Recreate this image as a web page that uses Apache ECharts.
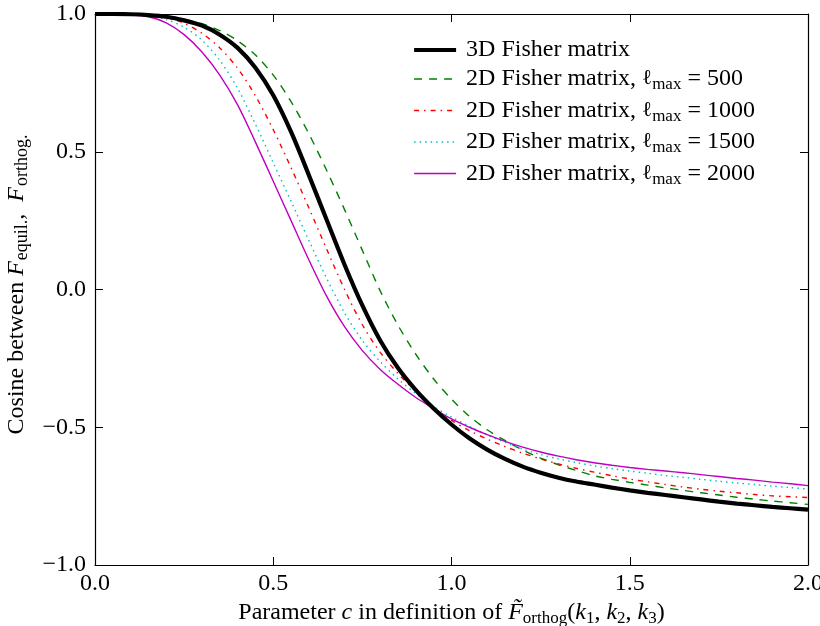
<!DOCTYPE html>
<html>
<head>
<meta charset="utf-8">
<script src="https://cdn.jsdelivr.net/npm/echarts@6/dist/echarts.min.js"></script>
<style>
  html, body { margin: 0; padding: 0; background: #fff; }
  #chart { width: 820px; height: 626px; }
</style>
</head>
<body>
<div id="chart"></div>
<script>
// Parameter c sampled along the horizontal axis
const cValues = [0.00, 0.05, 0.10, 0.15, 0.20, 0.25, 0.30, 0.35, 0.40, 0.45,
                 0.50, 0.55, 0.60, 0.65, 0.70, 0.75, 0.80, 0.85, 0.90, 0.95,
                 1.00, 1.05, 1.10, 1.15, 1.20, 1.25, 1.30, 1.35, 1.40, 1.45,
                 1.50, 1.55, 1.60, 1.65, 1.70, 1.75, 1.80, 1.85, 1.90, 1.95, 2.00];

// Cosine between F_equil. and F_orthog. for each Fisher matrix
const fisher3D = [1.000, 1.000, 0.999, 0.996, 0.990, 0.977, 0.958, 0.925, 0.877, 0.805,
                  0.705, 0.572, 0.415, 0.252, 0.090, -0.058, -0.185, -0.285, -0.365, -0.432,
                  -0.490, -0.540, -0.581, -0.615, -0.643, -0.665, -0.683, -0.697, -0.708, -0.719,
                  -0.729, -0.738, -0.746, -0.754, -0.762, -0.770, -0.777, -0.783, -0.789, -0.794, -0.799];

const fisher2D_500 = [1.000, 1.000, 1.000, 0.997, 0.992, 0.981, 0.965, 0.940, 0.903, 0.851,
                      0.778, 0.682, 0.565, 0.432, 0.290, 0.142, -0.005, -0.130, -0.235, -0.325,
                      -0.398, -0.460, -0.509, -0.548, -0.583, -0.612, -0.636, -0.657, -0.676, -0.689,
                      -0.700, -0.710, -0.720, -0.729, -0.738, -0.746, -0.754, -0.761, -0.768, -0.774, -0.780];

const fisher2D_1000 = [1.000, 1.000, 0.999, 0.995, 0.987, 0.966, 0.930, 0.877, 0.803, 0.703,
                       0.580, 0.442, 0.296, 0.146, 0.000, -0.128, -0.228, -0.305, -0.370, -0.430,
                       -0.475, -0.512, -0.543, -0.570, -0.594, -0.615, -0.633, -0.649, -0.663, -0.676,
                       -0.688, -0.698, -0.708, -0.717, -0.725, -0.732, -0.738, -0.744, -0.749, -0.752, -0.755];

const fisher2D_1500 = [1.000, 1.000, 0.998, 0.994, 0.980, 0.952, 0.905, 0.832, 0.730, 0.600,
                       0.460, 0.320, 0.178, 0.040, -0.085, -0.185, -0.262, -0.325, -0.378, -0.425,
                       -0.463, -0.497, -0.528, -0.555, -0.579, -0.599, -0.615, -0.628, -0.640, -0.650,
                       -0.659, -0.667, -0.675, -0.682, -0.689, -0.696, -0.702, -0.708, -0.714, -0.719, -0.724];

const fisher2D_2000 = [1.000, 1.000, 0.997, 0.990, 0.968, 0.925, 0.862, 0.778, 0.670, 0.535,
                       0.393, 0.250, 0.107, -0.025, -0.135, -0.222, -0.290, -0.344, -0.392, -0.432,
                       -0.470, -0.500, -0.527, -0.551, -0.572, -0.590, -0.605, -0.618, -0.629, -0.638,
                       -0.646, -0.653, -0.659, -0.665, -0.672, -0.679, -0.686, -0.692, -0.699, -0.705, -0.712];

const seriesNames = ['3D Fisher matrix',
                     '2D Fisher matrix, lmax = 500',
                     '2D Fisher matrix, lmax = 1000',
                     '2D Fisher matrix, lmax = 1500',
                     '2D Fisher matrix, lmax = 2000'];
const lmaxValues = [null, '500', '1000', '1500', '2000'];

const FONT = 'Liberation Serif';
const FS = 24;
const rich = {
  n: { fontFamily: FONT, fontSize: FS, color: '#000' },
  i: { fontFamily: FONT, fontSize: FS, fontStyle: 'italic', color: '#000' },
  l: { fontFamily: 'DejaVu Serif', fontSize: FS - 3, color: '#000' },
  s: { fontFamily: FONT, fontSize: 17, color: '#000', padding: [12, 0, 0, 0] },
  ys: { fontFamily: FONT, fontSize: 18, color: '#000', padding: [12, 0, 0, 1] }
};

function pairs(ys) {
  return cValues.map((c, k) => [c, ys[k]]);
}
function tickText(v) {
  return v.toFixed(1).replace('-', '\u2212');
}

const chart = echarts.init(document.getElementById('chart'), null, { renderer: 'canvas' });

const axisLine = { show: true, onZero: false, lineStyle: { color: '#000', width: 1.2 } };
const axisTick = { show: true, inside: true, length: 8, lineStyle: { color: '#000', width: 1 } };

const styles = [
  { color: '#000000', width: 4.2, type: 'solid' },
  { color: '#008000', width: 1.4, type: [8, 7] },
  { color: '#ff0000', width: 1.4, type: [5, 5, 1.5, 5] },
  { color: '#00bfbf', width: 1.4, type: [1.5, 4] },
  { color: '#bf00bf', width: 1.4, type: 'solid' }
];
const curves = [fisher3D, fisher2D_500, fisher2D_1000, fisher2D_1500, fisher2D_2000];

chart.setOption({
  animation: false,
  backgroundColor: '#fff',
  grid: { left: 95, right: 12, top: 14, bottom: 61, containLabel: false, outerBoundsMode: 'none' },
  legend: {
    orient: 'vertical',
    left: 407,
    top: 33,
    itemWidth: 42,
    itemHeight: 14,
    itemGap: 5,
    data: seriesNames.map((name, k) => ({
      name: name,
      lineStyle: { width: styles[k].width, color: styles[k].color, type: styles[k].type }
    })),
    itemStyle: { color: 'rgba(0,0,0,0)', borderWidth: 0, opacity: 0 },
    textStyle: { rich: rich, fontFamily: FONT, fontSize: FS, color: '#000', padding: [0, 0, 0, 5] },
    formatter: function (name) {
      const k = seriesNames.indexOf(name);
      if (!lmaxValues[k]) return '{n|' + name + '}';
      return '{n|2D Fisher matrix, }{l|\u2113}{s|max}{n| = ' + lmaxValues[k] + '}';
    }
  },
  xAxis: [
    {
      type: 'value', min: 0, max: 2, interval: 0.5, position: 'bottom',
      axisLine: axisLine, axisTick: axisTick, splitLine: { show: false },
      axisLabel: { margin: 7, fontFamily: FONT, fontSize: FS, color: '#000', formatter: tickText },
      name: '{n|Parameter }{i|c}{n| in definition of }{i|F\u0303}{s|orthog}{n|(}{i|k}{s|1}{n|, }{i|k}{s|2}{n|, }{i|k}{s|3}{n|)}',
      nameLocation: 'middle', nameGap: 25,
      nameTextStyle: { rich: rich }
    },
    {
      type: 'value', min: 0, max: 2, interval: 0.5, position: 'top',
      axisLine: axisLine, axisTick: axisTick, splitLine: { show: false },
      axisLabel: { show: false }
    }
  ],
  yAxis: [
    {
      type: 'value', min: -1, max: 1, interval: 0.5, position: 'left',
      axisLine: axisLine, axisTick: axisTick, splitLine: { show: false },
      axisLabel: { margin: 9, fontFamily: FONT, fontSize: FS, color: '#000', formatter: tickText },
      name: '{n|Cosine between }{i|F}{ys|equil.}{n|,  }{i|F}{ys|orthog.}',
      nameLocation: 'middle', nameGap: 62, nameRotate: 90,
      nameTextStyle: { rich: rich, padding: [0, 0, 0, 10] }
    },
    {
      type: 'value', min: -1, max: 1, interval: 0.5, position: 'right',
      axisLine: axisLine, axisTick: axisTick, splitLine: { show: false },
      axisLabel: { show: false }
    }
  ],
  series: curves.map((ys, k) => ({
    type: 'line',
    name: seriesNames[k],
    xAxisIndex: 0,
    yAxisIndex: 0,
    data: pairs(ys),
    symbol: 'none',
    showSymbol: false,
    smooth: 0.3,
    clip: true,
    z: k === 0 ? 3 : 2,
    lineStyle: styles[k],
    itemStyle: { color: styles[k].color }
  }))
});
</script>
</body>
</html>
